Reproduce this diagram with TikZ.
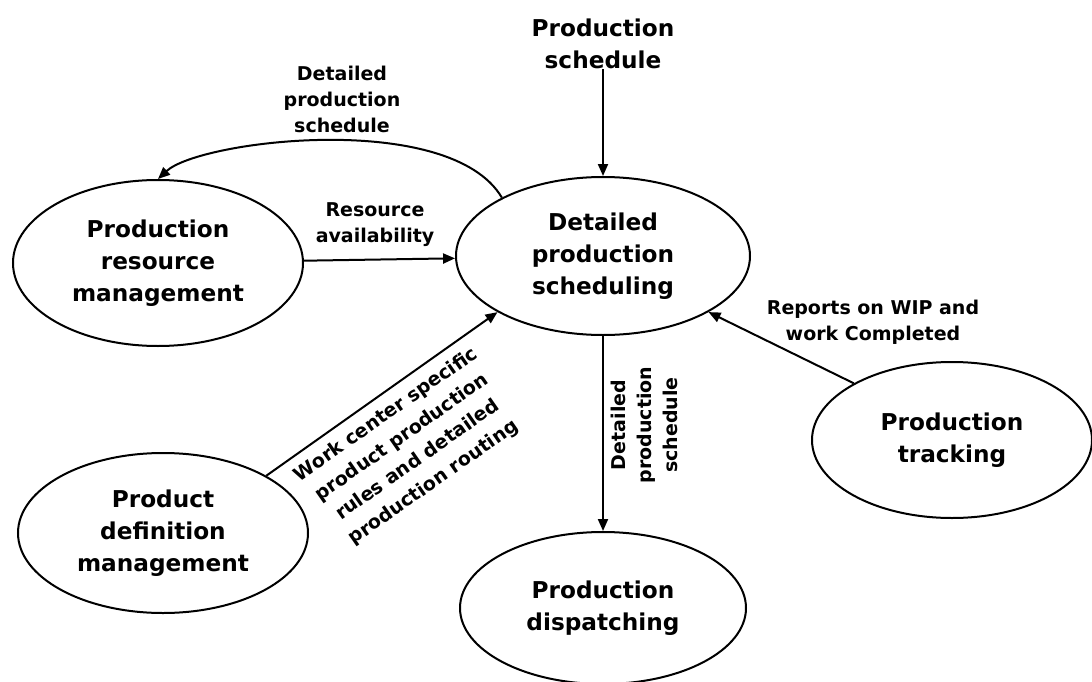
\documentclass[tikz,border=0pt]{standalone}
\usepackage{fontspec}
\setmainfont{DejaVu Sans}
\usetikzlibrary{shapes.geometric,arrows.meta}
\begin{document}
\begin{tikzpicture}[x=1pt,y=-1pt,
  bub/.style={ellipse,draw,line width=2pt,inner sep=0pt,align=center,
    font=\fontsize{23.2}{32}\selectfont\bfseries},
  lbl/.style={align=center,inner sep=0pt,
    font=\fontsize{19}{26}\selectfont\bfseries},
  arr/.style={line width=2pt,-{Triangle[length=12pt,width=10pt]}}]
\useasboundingbox (0,0) rectangle (1092,682);
\fill[white] (0,0) rectangle (1092,682);
% nodes
\node[bub,minimum width=290pt,minimum height=166pt] (res) at (158,263) {Production\\resource\\management};
\node[bub,minimum width=294pt,minimum height=158pt] (dps) at (603,256) {Detailed\\production\\scheduling};
\node[bub,minimum width=290pt,minimum height=160pt] (def) at (163,533) {Product\\definition\\management};
\node[bub,minimum width=280pt,minimum height=156pt] (trk) at (952,440) {Production\\tracking};
\node[bub,minimum width=286pt,minimum height=152pt] (dis) at (603,608) {Production\\dispatching};
\node[align=center,inner sep=0pt,font=\fontsize{23.2}{32}\selectfont\bfseries] (ps) at (603,44) {Production\\schedule};
% connectors
\draw[arr] (ps) -- (dps);
\draw[arr] (res) -- (dps);
\draw[arr] (def.29) -- (dps.208);
\draw[arr] (trk.150) -- (dps.332);
\draw[arr] (dps) -- (dis);
\draw[arr] (dps.150) .. controls (450,110) and (200,140) .. (res.north);
% labels
\node[lbl] (l1) at (342,99) {Detailed\\production\\schedule};
\node[lbl] (l2) at (375,225) {Resource\\availability};
\node[lbl] (l3) at (873,322) {Reports on WIP and\\work Completed};
\node[lbl,rotate=35,font=\fontsize{19}{27.5}\selectfont\bfseries] (l4) at (410,449) {Work center specific\\product production\\rules and detailed\\production routing};
\node[lbl,rotate=90] (l5) at (644,425) {Detailed\\production\\schedule};
\end{tikzpicture}
\end{document}
